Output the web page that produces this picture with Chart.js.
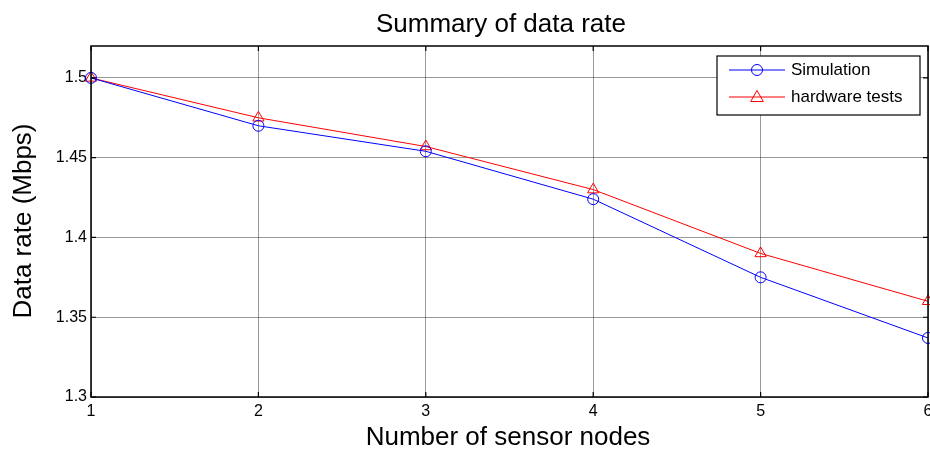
<!DOCTYPE html>
<html><head><meta charset="utf-8">
<script src="https://cdn.jsdelivr.net/npm/chart.js@4/dist/chart.umd.min.js"></script>
<style>html,body{margin:0;padding:0;background:#fff}#wrap{width:930px;height:452px;position:relative}</style>
</head><body><div id="wrap"><canvas id="c" width="930" height="452"></canvas></div>
<script>
const nodes = [1, 2, 3, 4, 5, 6];
const simulation = [1.5, 1.47, 1.454, 1.424, 1.375, 1.337];
const hardware = [1.5, 1.475, 1.457, 1.43, 1.39, 1.36];
const yTicks = [1.3, 1.35, 1.4, 1.45, 1.5];
const xTicks = [1, 2, 3, 4, 5, 6];
const seriesNames = ['Simulation', 'hardware tests'];
const chartTitle = 'Summary of data rate';
const xTitle = 'Number of sensor nodes';
const yTitle = 'Data rate (Mbps)';

const FONT = '"Liberation Sans", Arial, Helvetica, sans-serif';

const framePlugin = {
  id: 'frame',
  afterDraw(chart) {
    const ctx = chart.ctx;
    const a = chart.chartArea;
    const xs = chart.scales.x, ys = chart.scales.y;
    ctx.save();
    ctx.strokeStyle = '#000';
    ctx.lineWidth = 1.5;
    ctx.strokeRect(a.left, a.top, a.right - a.left, a.bottom - a.top);
    ctx.lineWidth = 1.2;
    const tl = 5;
    xTicks.forEach(v => {
      const px = xs.getPixelForValue(v);
      ctx.beginPath();
      ctx.moveTo(px, a.bottom); ctx.lineTo(px, a.bottom - tl);
      ctx.moveTo(px, a.top); ctx.lineTo(px, a.top + tl);
      ctx.stroke();
    });
    yTicks.forEach(v => {
      const py = ys.getPixelForValue(v);
      ctx.beginPath();
      ctx.moveTo(a.left, py); ctx.lineTo(a.left + tl, py);
      ctx.moveTo(a.right, py); ctx.lineTo(a.right - tl, py);
      ctx.stroke();
    });
    ctx.fillStyle = '#000';
    ctx.textAlign = 'center';
    ctx.textBaseline = 'middle';
    ctx.font = '26px ' + FONT;
    ctx.fillText(chartTitle, 501, 25);
    ctx.fillText(xTitle, 508, 438);
    ctx.save();
    ctx.translate(24, 221);
    ctx.rotate(-Math.PI / 2);
    ctx.fillText(yTitle, 0, 0);
    ctx.restore();
    const lx = 717, ly = 56, lw = 203, lh = 59;
    ctx.fillStyle = '#fff';
    ctx.fillRect(lx, ly, lw, lh);
    ctx.strokeStyle = '#000';
    ctx.lineWidth = 1.2;
    ctx.strokeRect(lx, ly, lw, lh);
    const ds = chart.data.datasets;
    const rows = [70, 97];
    ds.forEach((d, i) => {
      const y = rows[i];
      ctx.strokeStyle = d.borderColor;
      ctx.lineWidth = 1;
      ctx.beginPath();
      ctx.moveTo(729, y); ctx.lineTo(785, y);
      ctx.stroke();
      ctx.beginPath();
      if (d.pointStyle === 'circle') {
        ctx.arc(757, y, 5.5, 0, Math.PI * 2);
      } else {
        const r = 6;
        ctx.moveTo(757, y - r * 1.1);
        ctx.lineTo(757 + r * 1.05, y + r * 0.75);
        ctx.lineTo(757 - r * 1.05, y + r * 0.75);
        ctx.closePath();
      }
      ctx.stroke();
      ctx.fillStyle = '#000';
      ctx.textAlign = 'left';
      ctx.font = '17px ' + FONT;
      ctx.fillText(d.label, 791, y);
    });
    ctx.restore();
  }
};

new Chart(document.getElementById('c'), {
  type: 'line',
  data: {
    datasets: [
      {
        label: seriesNames[0],
        data: nodes.map((x, i) => ({x, y: simulation[i]})),
        borderColor: '#0000ff', backgroundColor: 'rgba(0,0,0,0)',
        borderWidth: 1, pointStyle: 'circle', pointRadius: 5.5,
        pointBorderWidth: 1, pointBackgroundColor: 'rgba(0,0,0,0)',
        pointBorderColor: '#0000ff', clip: false, tension: 0
      },
      {
        label: seriesNames[1],
        data: nodes.map((x, i) => ({x, y: hardware[i]})),
        borderColor: '#ff0000', backgroundColor: 'rgba(0,0,0,0)',
        borderWidth: 1, pointStyle: 'triangle', pointRadius: 6.5,
        pointBorderWidth: 1, pointBackgroundColor: 'rgba(0,0,0,0)',
        pointBorderColor: '#ff0000', clip: false, tension: 0
      }
    ]
  },
  options: {
    responsive: false,
    devicePixelRatio: 1,
    animation: false,
    layout: { autoPadding: false, padding: { top: 46, right: 2, bottom: 0, left: 0 } },
    plugins: { legend: { display: false }, title: { display: false }, tooltip: { enabled: false } },
    scales: {
      x: {
        type: 'linear', min: 1, max: 6,
        afterBuildTicks: s => { s.ticks = xTicks.map(v => ({ value: v })); },
        afterFit: s => { s.height = 55; s.paddingLeft = 0; s.paddingRight = 0; },
        grid: { color: 'rgba(0,0,0,0.4)', lineWidth: 1, tickLength: 0 },
        border: { display: false },
        ticks: { color: '#000', padding: 5, font: { family: FONT, size: 16 }, maxRotation: 0, autoSkip: false,
                 callback: v => String(v) }
      },
      y: {
        type: 'linear', min: 1.3, max: 1.52,
        afterBuildTicks: s => { s.ticks = yTicks.map(v => ({ value: v })); },
        afterFit: s => { s.width = 91; s.paddingTop = 0; s.paddingBottom = 0; },
        grid: { color: 'rgba(0,0,0,0.4)', lineWidth: 1, tickLength: 0 },
        border: { display: false },
        ticks: { color: '#000', padding: 4, font: { family: FONT, size: 16 }, autoSkip: false,
                 callback: v => String(v) }
      }
    }
  },
  plugins: [framePlugin]
});
</script>
</body></html>
